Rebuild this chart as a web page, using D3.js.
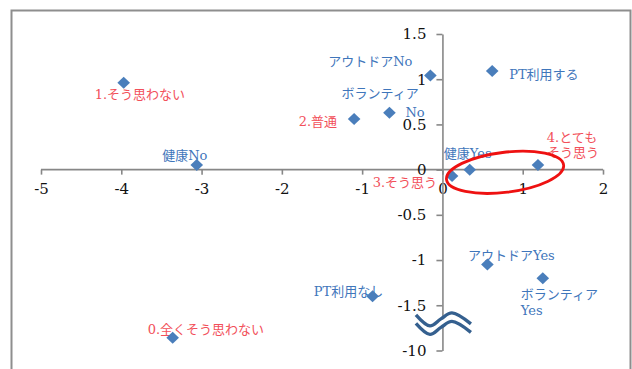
<!DOCTYPE html>
<html><head><meta charset="utf-8">
<script src="https://cdn.jsdelivr.net/npm/d3@7"></script>
<style>
html,body{margin:0;padding:0;background:#fff;}
svg{display:block;}
</style></head>
<body>
<svg id="chart" width="632" height="369"></svg>
<script>
// ---- data ----
const labels = ["1.そう思わない","健康No","アウトドアNo","PT利用する","ボランティアNo","2.普通","健康Yes","3.そう思う","4.とてもそう思う","アウトドアYes","ボランティアYes","PT利用なし","0.全くそう思わない"];
const xValues = [-3.97,-3.06,-0.15,0.62,-0.66,-1.10,0.34,0.12,1.19,0.56,1.25,-0.87,-3.36];
const yValues = [0.96,0.05,1.04,1.09,0.63,0.56,0.00,-0.07,0.05,-1.05,-1.20,-1.40,-7.6];
const groups  = ["ans","yn","yn","yn","yn","ans","yn","ans","ans","yn","yn","yn","ans"];
const xTicks = [-5,-4,-3,-2,-1,0,1,2];
const yTicks = [1.5,1,0.5,0,-0.5,-1,-1.5,-10];
const ellipseCenter = [0.78,-0.03];

// ---- layout / style ----
const labelLayout = {
  "1.そう思わない":[{t:"1.そう思わない",a:"start",dx:-29,dy:12}],
  "健康No":[{t:"健康No",a:"middle",dx:-12,dy:-10}],
  "アウトドアNo":[{t:"アウトドアNo",a:"end",dx:-18,dy:-14}],
  "PT利用する":[{t:"PT利用する",a:"start",dx:17,dy:3}],
  "ボランティアNo":[{t:"ボランティア",a:"start",dx:-48,dy:-19},{t:"No",a:"start",dx:16,dy:0}],
  "2.普通":[{t:"2.普通",a:"end",dx:-17,dy:3}],
  "健康Yes":[{t:"健康Yes",a:"middle",dx:-2,dy:-16}],
  "3.そう思う":[{t:"3.そう思う",a:"end",dx:-15,dy:7}],
  "4.とてもそう思う":[{t:"4.とても",a:"middle",dx:34,dy:-28},{t:"そう思う",a:"middle",dx:35,dy:-13}],
  "アウトドアYes":[{t:"アウトドアYes",a:"middle",dx:24,dy:-9}],
  "ボランティアYes":[{t:"ボランティア",a:"start",dx:-22,dy:16},{t:"Yes",a:"start",dx:-22,dy:32}],
  "PT利用なし":[{t:"PT利用なし",a:"middle",dx:-24,dy:-5}],
  "0.全くそう思わない":[{t:"0.全くそう思わない",a:"start",dx:-25,dy:-8}]
};
const colors = {ans:"#f2505a", yn:"#3f76bb"};
const pointColor = "#4a7ebb";
const axisColor = "#878787";
const fontFamily = "'DejaVu Serif','Liberation Serif','Noto Sans CJK JP',serif";

const svg = d3.select("#chart");

// frame
svg.append("path")
  .attr("d","M11.5,369 L11.5,10.5 L630.5,10.5 L630.5,369")
  .attr("fill","none").attr("stroke","#8e8e8e").attr("stroke-width",2);

const x = d3.scaleLinear().domain([-5,2]).range([41,603]);
const y = d3.scaleLinear().domain([-10,-1.5,1.5]).range([350.5,305.25,34]);

const fmt = d => String(d);

// x axis
const gx = svg.append("g").attr("transform",`translate(0,${y(0)})`)
  .call(d3.axisBottom(x).tickValues(xTicks).tickSize(5).tickSizeOuter(0).tickPadding(9).tickFormat(fmt));
// y axis
const gy = svg.append("g").attr("transform",`translate(${x(0)},0)`)
  .call(d3.axisLeft(y).tickValues(yTicks).tickSize(6).tickSizeOuter(0).tickPadding(10).tickFormat(fmt));

[gx,gy].forEach(g=>{
  g.select(".domain").attr("stroke",axisColor).attr("stroke-width",1.6);
  g.selectAll(".tick line").attr("stroke",axisColor).attr("stroke-width",1.6);
  g.selectAll(".tick text").attr("font-family",fontFamily).attr("font-size",15).attr("fill","#111");
});
gx.select(".domain").attr("d",`M${x(-5)},0H${x(2)}`);

// labels (under points)
const lab = svg.append("g").attr("font-family",fontFamily).attr("font-size",13);
labels.forEach((name,i)=>{
  const px = x(xValues[i]), py = y(yValues[i]);
  labelLayout[name].forEach(l=>{
    lab.append("text").attr("x",px+l.dx).attr("y",py+l.dy)
      .attr("text-anchor",l.a).attr("dominant-baseline","central")
      .attr("fill",colors[groups[i]]).text(l.t);
  });
});

// points
svg.append("g").selectAll("path").data(labels).join("path")
  .attr("transform",(d,i)=>`translate(${x(xValues[i])},${y(yValues[i])})`)
  .attr("d","M0,-6 L6.3,0 L0,6 L-6.3,0Z")
  .attr("fill",pointColor);

// red ellipse
svg.append("ellipse")
  .attr("cx",x(ellipseCenter[0])).attr("cy",y(ellipseCenter[1]))
  .attr("rx",59).attr("ry",20)
  .attr("transform",`rotate(-7,${x(ellipseCenter[0])},${y(ellipseCenter[1])})`)
  .attr("fill","none").attr("stroke","#ee1111").attr("stroke-width",2.8);

// axis break symbol
const bx = x(0), by = (y(-1.5)+y(-10))/2;
const waveLine = d3.line().curve(d3.curveCatmullRom.alpha(0.5));
const wavePts = off => [[-26.5,-13],[-12.5,-2],[-1.5,-9],[9.5,-15],[28.5,-4]].map(p=>[bx+p[0],by+p[1]+off]);
const waveTop = wavePts(0), waveBot = wavePts(8.5);
svg.append("path")
  .attr("d",waveLine(waveTop)+"L"+waveLine(waveBot.slice().reverse()).slice(1)+"Z")
  .attr("fill","#fff").attr("stroke","none");
[waveTop,waveBot].forEach(pts=>{
  svg.append("path").attr("d",waveLine(pts))
    .attr("fill","none").attr("stroke","#35608f").attr("stroke-width",3.4).attr("stroke-linecap","butt");
});
</script>
</body></html>
